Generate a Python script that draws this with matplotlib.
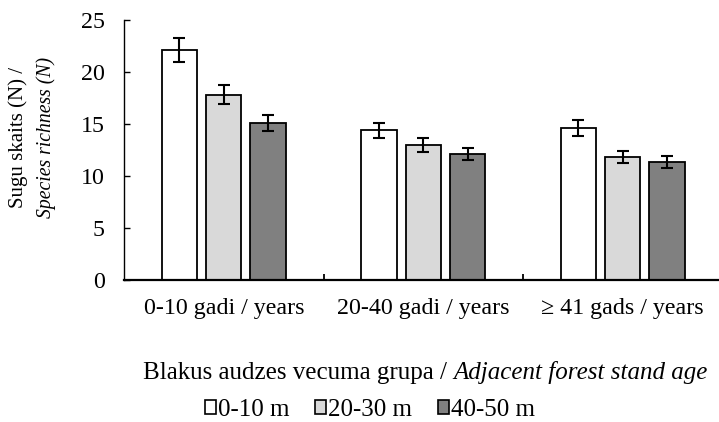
import matplotlib
matplotlib.use("Agg")
import matplotlib.pyplot as plt
import numpy as np
from matplotlib.patches import Patch

categories = ["0-10 gadi / years", "20-40 gadi / years", "\u2265 41 gads / years"]
series_names = ["0-10 m", "20-30 m", "40-50 m"]
vals_0_10 = [22.1, 14.4, 14.6]
vals_20_30 = [17.8, 13.0, 11.8]
vals_40_50 = [15.1, 12.1, 11.3]
err_0_10 = [1.15, 0.72, 0.75]
err_20_30 = [0.92, 0.67, 0.61]
err_40_50 = [0.77, 0.61, 0.56]
colors = ["#ffffff", "#d9d9d9", "#808080"]

plt.rcParams['font.family'] = ['Liberation Serif', 'DejaVu Serif']
FS = 17.3
FS_L = 18

fig = plt.figure(figsize=(7.19, 4.22), dpi=100)
W, H = 719, 422
ax = fig.add_axes([124 / W, 1 - 279.5 / H, (719 - 124) / W, (279.5 - 20) / H])

x = np.arange(len(categories))
bw = 0.176
step = 0.222
series = [vals_0_10, vals_20_30, vals_40_50]
errs = [err_0_10, err_20_30, err_40_50]
for i, (v, e, c) in enumerate(zip(series, errs, colors)):
    ax.bar(x + (i - 1) * step, v, width=bw, color=c, edgecolor="black",
           linewidth=1.3, zorder=2)
    ax.errorbar(x + (i - 1) * step, v, yerr=e, fmt="none", ecolor="black",
                elinewidth=1.5, capsize=4, capthick=1.5, zorder=3)

ax.set_xlim(-0.5, -0.5 + 595 / 199.5)
ax.set_ylim(0, 25)
ax.set_yticks([0, 5, 10, 15, 20, 25])
ax.tick_params(axis="y", direction="in", length=4.5, width=1, pad=14,
               labelsize=FS)
ax.set_xticks(x)
ax.set_xticklabels(categories, fontsize=FS)
ax.tick_params(axis="x", which="major", length=0, pad=13)
ax.set_xticks([0.5, 1.5], minor=True)
ax.tick_params(axis="x", which="minor", direction="in", length=4.5, width=1.3)

for s in ["top", "right"]:
    ax.spines[s].set_visible(False)
ax.spines["left"].set_linewidth(1.0)
ax.spines["bottom"].set_linewidth(1.6)
ax.spines["bottom"].set_zorder(4)

fig.text(18 / W, 1 - 137 / H, "Sugu skaits (N) /", rotation=90,
         ha="center", va="center", fontsize=15)
fig.text(46 / W, 1 - 137 / H, "Species richness (N)", rotation=90,
         ha="center", va="center", fontsize=14.2, style="italic")

# x-axis title: roman part then italic part, starting at x=143 px
t1 = fig.text(143 / W, 1 - 373 / H, "Blakus audzes vecuma grupa / ", ha="left",
              va="center", fontsize=FS_L)
fig.canvas.draw()
bb = t1.get_window_extent(renderer=fig.canvas.get_renderer())
fig.text(bb.x1 / W, 1 - 373 / H, "Adjacent forest stand age", ha="left",
         va="center", fontsize=FS_L, style="italic")

handles = [Patch(facecolor=c, edgecolor="black", linewidth=1.2) for c in colors]
fig.legend(handles, series_names, loc="center", bbox_to_anchor=(370 / W, 1 - 410 / H),
           ncol=3, frameon=False, fontsize=FS_L, handlelength=0.44,
           handleheight=0.44, handletextpad=0.1, columnspacing=1.0,
           borderpad=0, borderaxespad=0)

fig.savefig("out.png", dpi=100)
